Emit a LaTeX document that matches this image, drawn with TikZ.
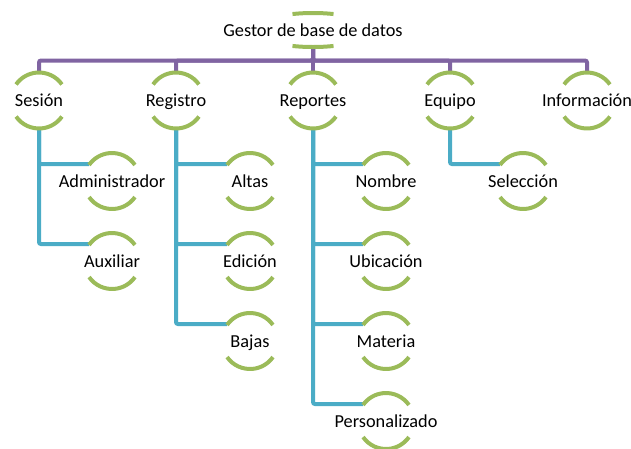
\documentclass[tikz,border=0pt]{standalone}
\usepackage{fontspec}
\setmainfont{Carlito}

\definecolor{leafgreen}{HTML}{9BBB59}
\definecolor{buspurple}{HTML}{8064A2}
\definecolor{linkblue}{HTML}{4BACC6}

\tikzset{
  topic/.style={inner sep=0pt, text height=12pt, text depth=0pt, font=\fontsize{18.3}{20}\selectfont},
  hoop/.style={leafgreen, line width=4pt},
  bus/.style={buspurple, line width=4pt, rounded corners=2pt},
  link/.style={linkblue, line width=4pt, rounded corners=2pt},
}

\begin{document}
\begin{tikzpicture}[x=1pt,y=1pt]
\useasboundingbox (0,0) rectangle (631,-448);

\node[topic] (gdb) at (313,-30) {Gestor de base de datos};

\node[topic] (ses) at (39,-100.5) {Sesión};
\node[topic] (reg) at (176,-100.5) {Registro};
\node[topic] (rep) at (313,-100.5) {Reportes};
\node[topic] (equ) at (450,-100.5) {Equipo};
\node[topic] (inf) at (587,-100.5) {Información};

\node[topic] (adm) at (112,-181) {Administrador};
\node[topic] (aux) at (112,-261) {Auxiliar};
\node[topic] (alt) at (250,-181) {Altas};
\node[topic] (edi) at (250,-261) {Edición};
\node[topic] (baj) at (250,-341) {Bajas};
\node[topic] (nom) at (386,-181) {Nombre};
\node[topic] (ubi) at (386,-261) {Ubicación};
\node[topic] (mat) at (386,-341) {Materia};
\node[topic] (per) at (386,-421) {Personalizado};
\node[topic] (sel) at (523,-181) {Selección};

% connectors
\foreach \n in {ses,reg,rep,equ,inf}
  \draw[bus] ([yshift=-17pt]gdb.center) |- ([yshift=40pt]\n.center) -- ([yshift=28pt]\n.center);

\foreach \p/\c in {ses/adm,ses/aux,reg/alt,reg/edi,reg/baj,rep/nom,rep/ubi,rep/mat,rep/per,equ/sel}
  \draw[link] ([yshift=-28pt]\p.center) |- ([shift={(-23pt,17pt)}]\c.center);

% green half rings
\draw[hoop] ([shift={(70:60 and 17)}]gdb.center) arc[start angle=70, end angle=110, x radius=60, y radius=17];
\draw[hoop] ([shift={(250:60 and 17)}]gdb.center) arc[start angle=250, end angle=290, x radius=60, y radius=17];

\foreach \n in {ses,reg,rep,equ,inf,adm,aux,alt,edi,baj,nom,ubi,mat,per,sel}{
  \draw[hoop] ([shift={(35:28)}]\n.center) arc[start angle=35, end angle=145, radius=28];
  \draw[hoop] ([shift={(215:28)}]\n.center) arc[start angle=215, end angle=325, radius=28];
}

\end{tikzpicture}
\end{document}
